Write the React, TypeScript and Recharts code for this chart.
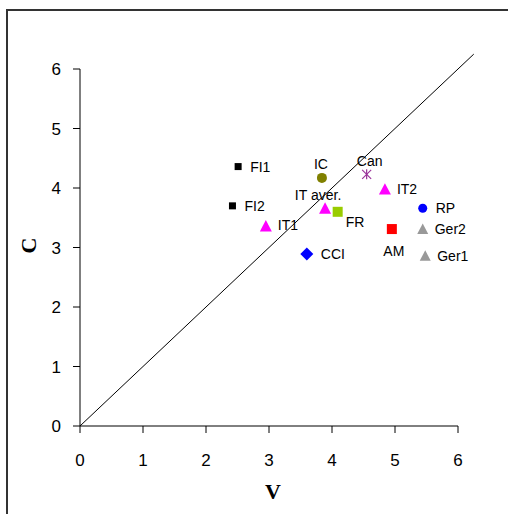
import { ScatterChart, Scatter, XAxis, YAxis, ReferenceLine, Label } from 'recharts';

// values
const names = ['FI1', 'FI2', 'IT1', 'IC', 'Can', 'IT2', 'IT aver.', 'FR', 'RP', 'AM', 'Ger2', 'CCI', 'Ger1'];
const vValues = [2.51, 2.42, 2.95, 3.84, 4.55, 4.84, 3.89, 4.09, 5.44, 4.95, 5.44, 3.6, 5.48];
const cValues = [4.36, 3.7, 3.36, 4.17, 4.23, 3.98, 3.66, 3.6, 3.66, 3.31, 3.31, 2.89, 2.86];
const ticks = [0, 1, 2, 3, 4, 5, 6];
// y = x guide line, runs a bit past the axes
const diagonal = [0, 6.25];

type Marker = {
  shape: 'square' | 'triangle' | 'circle' | 'diamond' | 'star';
  color: string;
  size: number;
  dx: number;
  dy: number;
  anchor: 'start' | 'middle';
};

const MARKERS: Record<string, Marker> = {
  FI1: { shape: 'square', color: '#000000', size: 7, dx: 12, dy: 0, anchor: 'start' },
  FI2: { shape: 'square', color: '#000000', size: 7, dx: 12, dy: 0, anchor: 'start' },
  IT1: { shape: 'triangle', color: '#ff00ff', size: 12, dx: 12, dy: -1, anchor: 'start' },
  IC: { shape: 'circle', color: '#808000', size: 10, dx: -1, dy: -14, anchor: 'middle' },
  Can: { shape: 'star', color: '#993399', size: 9, dx: 3, dy: -13, anchor: 'middle' },
  IT2: { shape: 'triangle', color: '#ff00ff', size: 12, dx: 12, dy: 0, anchor: 'start' },
  'IT aver.': { shape: 'triangle', color: '#ff00ff', size: 12, dx: -7, dy: -13, anchor: 'middle' },
  FR: { shape: 'square', color: '#99cc00', size: 10, dx: 8, dy: 10, anchor: 'start' },
  RP: { shape: 'circle', color: '#0000ff', size: 9, dx: 13, dy: 0, anchor: 'start' },
  AM: { shape: 'square', color: '#ff0000', size: 10, dx: 2, dy: 22, anchor: 'middle' },
  Ger2: { shape: 'triangle', color: '#999999', size: 11, dx: 12, dy: 0, anchor: 'start' },
  CCI: { shape: 'diamond', color: '#0000ff', size: 13, dx: 14, dy: 0, anchor: 'start' },
  Ger1: { shape: 'triangle', color: '#999999', size: 11, dx: 12, dy: 0, anchor: 'start' },
};

const data = names.map((name, i) => ({ name, v: vValues[i], c: cValues[i] }));

const tickStyle = {
  fontSize: 17,
  fill: '#000',
  fontFamily: '"Liberation Sans Narrow", "Arial Narrow", "Liberation Sans", sans-serif',
};

function PointShape(props: any) {
  const { cx, cy, payload } = props;
  const m = MARKERS[payload.name];
  const h = m.size / 2;
  let mark;
  if (m.shape === 'square') {
    mark = <rect x={cx - h} y={cy - h} width={m.size} height={m.size} fill={m.color} />;
  } else if (m.shape === 'triangle') {
    mark = (
      <polygon
        points={`${cx},${cy - h} ${cx + h},${cy + h * 0.9} ${cx - h},${cy + h * 0.9}`}
        fill={m.color}
      />
    );
  } else if (m.shape === 'circle') {
    mark = <circle cx={cx} cy={cy} r={h} fill={m.color} />;
  } else if (m.shape === 'diamond') {
    mark = (
      <polygon points={`${cx},${cy - h} ${cx + h},${cy} ${cx},${cy + h} ${cx - h},${cy}`} fill={m.color} />
    );
  } else {
    mark = (
      <g stroke={m.color} strokeWidth={1.2}>
        <line x1={cx - h} y1={cy - h} x2={cx + h} y2={cy + h} />
        <line x1={cx - h} y1={cy + h} x2={cx + h} y2={cy - h} />
        <line x1={cx} y1={cy - h - 0.5} x2={cx} y2={cy + h + 0.5} />
      </g>
    );
  }
  return (
    <g>
      {mark}
      <text
        x={cx + m.dx}
        y={cy + m.dy}
        textAnchor={m.anchor}
        dominantBaseline="central"
        fontSize={14}
        fontFamily='"Liberation Sans", Arial, sans-serif'
        fill="#000"
      >
        {payload.name}
      </text>
    </g>
  );
}

export default function App() {
  return (
    <div
      style={{
        position: 'absolute',
        left: 0,
        top: 0,
        width: 508,
        height: 514,
        overflow: 'hidden',
        background: '#fff',
      }}
    >
      <div
        style={{
          position: 'absolute',
          left: 6,
          top: 9,
          width: 600,
          height: 600,
          borderLeft: '2px solid #333',
          borderTop: '2px solid #333',
        }}
      />
      <ScatterChart
        width={508}
        height={514}
        margin={{ top: 69, right: 50, bottom: 28, left: 0 }}
        style={{ position: 'absolute', left: 0, top: 0 }}
      >
        <XAxis
          type="number"
          dataKey="v"
          domain={[0, 6]}
          ticks={ticks}
          height={60}
          tickSize={7}
          tickMargin={21}
          tick={tickStyle}
          axisLine={{ stroke: '#000' }}
          tickLine={{ stroke: '#000' }}
        >
          <Label
            content={(p: any) => {
              const vb = p.viewBox;
              return (
                <text
                  x={vb.x + vb.width / 2 + 4}
                  y={499}
                  textAnchor="middle"
                  fontSize={22}
                  fontWeight="bold"
                  fontFamily='"Liberation Serif", "Times New Roman", serif'
                  fill="#000"
                >
                  V
                </text>
              );
            }}
          />
        </XAxis>
        <YAxis
          type="number"
          dataKey="c"
          domain={[0, 6]}
          ticks={ticks}
          width={80}
          tickSize={7}
          tickMargin={12}
          tick={tickStyle}
          axisLine={{ stroke: '#000' }}
          tickLine={{ stroke: '#000' }}
        >
          <Label
            content={(p: any) => {
              const vb = p.viewBox;
              const cy = vb.y + vb.height / 2 - 2;
              return (
                <text
                  x={36}
                  y={cy}
                  transform={`rotate(-90, 36, ${cy})`}
                  textAnchor="middle"
                  fontSize={22}
                  fontWeight="bold"
                  fontFamily='"Liberation Serif", "Times New Roman", serif'
                  fill="#000"
                >
                  C
                </text>
              );
            }}
          />
        </YAxis>
        <ReferenceLine
          segment={[
            { x: diagonal[0], y: diagonal[0] },
            { x: diagonal[1], y: diagonal[1] },
          ]}
          stroke="#000"
          strokeWidth={1}
          ifOverflow="visible"
        />
        <Scatter data={data} shape={PointShape} isAnimationActive={false} />
      </ScatterChart>
    </div>
  );
}
